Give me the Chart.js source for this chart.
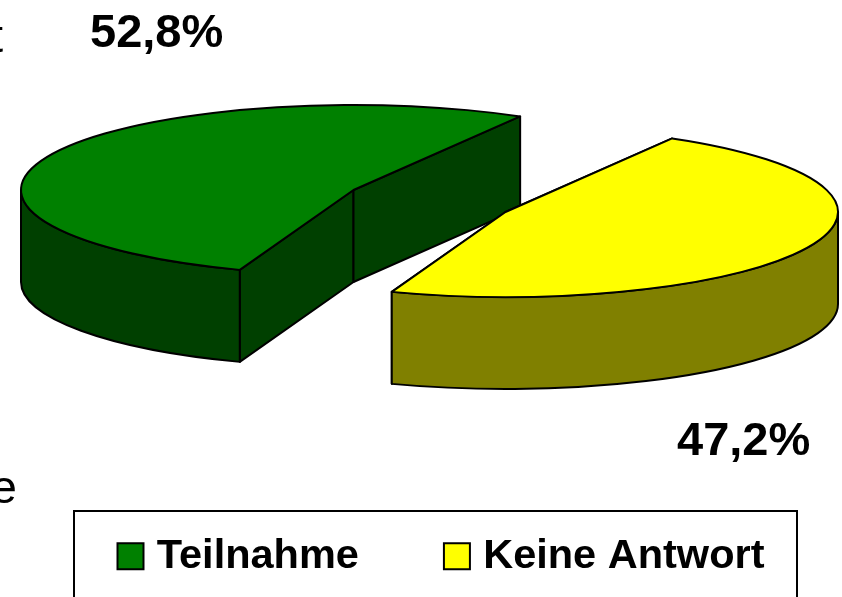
<!DOCTYPE html>
<html>
<head>
<meta charset="utf-8">
<style>html,body{margin:0;padding:0;background:#fff;overflow:hidden}canvas{display:block}</style>
<script src="https://cdn.jsdelivr.net/npm/chart.js@4/dist/chart.umd.min.js"></script>
</head>
<body>
<canvas id="c" width="842" height="597"></canvas>
<script>
const categories = ['Teilnahme', 'Keine Antwort'];
const values = [52.8, 47.2];
const valueLabels = ['52,8%', '47,2%'];
const topColors = ['#008000', '#FFFF00'];
const wallColors = ['#004000', '#808000'];
const croppedText = ['t', 'e'];

const FONT = '"Liberation Sans", Arial, sans-serif';
const ellipseA = 332.5, ellipseB = 85, depth = 92;
const sliceCenters = [{x: 353.5, y: 190}, {x: 505.5, y: 212}];
const labelPos = [{x: 90, y: 47}, {x: 677, y: 455}];

const pie3d = {
  id: 'pie3d',
  afterLayout(chart) {
    const lg = chart.legend, p = lg.options.labels.padding;
    const w = lg.width, h = lg.height;
    lg.left = 125 - p; lg.right = lg.left + w;
    lg.top = 535.5 - p; lg.bottom = lg.top + h;
  },
  beforeDraw(chart) {
    const ctx = chart.ctx;
    ctx.save();
    ctx.strokeStyle = '#000'; ctx.lineWidth = 2;
    ctx.strokeRect(74, 511, 723, 120);
    ctx.restore();
  },
  beforeDatasetDraw(chart, args) {
    const ctx = chart.ctx;
    const arcs = chart.getDatasetMeta(args.index).data;
    ctx.save();
    ctx.lineJoin = 'round';
    ctx.lineWidth = 2;
    ctx.strokeStyle = '#000';
    arcs.forEach((arc, i) => {
      const c = sliceCenters[i], a0 = arc.startAngle, a1 = arc.endAngle;
      const pt = t => ({x: c.x + ellipseA * Math.cos(t), y: c.y + ellipseB * Math.sin(t)});
      ctx.fillStyle = wallColors[i];
      // cut faces
      [a0, a1].forEach(t => {
        const e = pt(t);
        ctx.beginPath();
        ctx.moveTo(c.x, c.y); ctx.lineTo(e.x, e.y);
        ctx.lineTo(e.x, e.y + depth); ctx.lineTo(c.x, c.y + depth);
        ctx.closePath(); ctx.fill(); ctx.stroke();
      });
      // outer rim (front half of the ellipse only)
      for (let k = -1; k <= 2; k++) {
        const lo = Math.max(a0, 2 * Math.PI * k), hi = Math.min(a1, Math.PI + 2 * Math.PI * k);
        if (hi <= lo) continue;
        ctx.beginPath();
        ctx.ellipse(c.x, c.y, ellipseA, ellipseB, 0, lo, hi);
        ctx.ellipse(c.x, c.y + depth, ellipseA, ellipseB, 0, hi, lo, true);
        ctx.closePath(); ctx.fill(); ctx.stroke();
      }
      // top face
      ctx.fillStyle = topColors[i];
      ctx.beginPath();
      ctx.moveTo(c.x, c.y);
      ctx.ellipse(c.x, c.y, ellipseA, ellipseB, 0, a0, a1);
      ctx.closePath(); ctx.fill(); ctx.stroke();
    });
    ctx.restore();
    return false;
  },
  afterDraw(chart) {
    const ctx = chart.ctx;
    ctx.save();
    ctx.fillStyle = '#000';
    ctx.textBaseline = 'alphabetic';
    ctx.font = 'bold 47px ' + FONT;
    valueLabels.forEach((t, i) => ctx.fillText(t, labelPos[i].x, labelPos[i].y));
    ctx.font = '47px ' + FONT;
    ctx.textAlign = 'right';
    ctx.fillText(croppedText[0], 3, 52);
    ctx.fillText(croppedText[1], 17, 503);
    ctx.restore();
  }
};

new Chart(document.getElementById('c'), {
  type: 'pie',
  data: {
    labels: categories,
    datasets: [{
      data: values,
      backgroundColor: topColors,
      borderColor: '#000',
      borderWidth: 2
    }]
  },
  options: {
    responsive: false,
    animation: false,
    rotation: 200,
    plugins: {
      tooltip: {enabled: false},
      legend: {
        position: 'bottom',
        align: 'start',
        labels: {
          usePointStyle: true,
          pointStyle: 'rect',
          boxWidth: 11,
          boxHeight: 26,
          padding: 92.5,
          color: '#000',
          font: {family: FONT, size: 41.5, weight: 'bold'}
        }
      }
    }
  },
  plugins: [pie3d]
});
</script>
</body>
</html>
